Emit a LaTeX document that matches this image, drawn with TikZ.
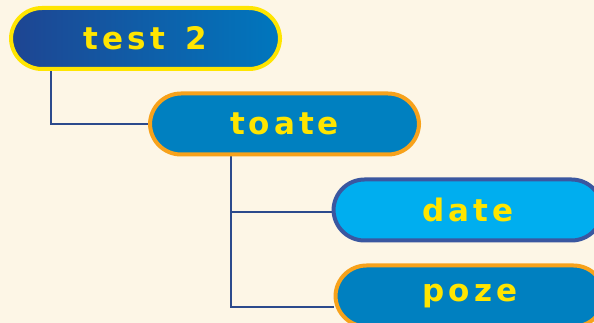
\documentclass[tikz,border=0pt]{standalone}
\usepackage{fontspec}
\newfontfamily\boxfont[LetterSpace=13]{DejaVu Sans Bold}
\usetikzlibrary{backgrounds}
\definecolor{bg}{HTML}{FDF6E6}
\definecolor{ylw}{HTML}{FFE500}
\definecolor{org}{HTML}{F7A21B}
\definecolor{midblue}{HTML}{0080C0}
\definecolor{lightblue}{HTML}{00AEEF}
\definecolor{darkblue}{HTML}{1E4592}
\definecolor{gradright}{HTML}{0077BE}
\definecolor{edgeblue}{HTML}{3A57A0}
\definecolor{linkblue}{HTML}{2C4A8C}
\begin{document}
\begin{tikzpicture}[x=1pt,y=1pt,
  pill/.style={rounded corners=31pt, minimum width=269pt, minimum height=61pt,
    line width=4pt, text=ylw, font=\boxfont\fontsize{31}{36}\selectfont, inner sep=0pt},
  link/.style={draw=linkblue, line width=2pt}]
\useasboundingbox (0,0) rectangle (594,323);
\node[pill, draw=ylw, left color=darkblue, right color=gradright] (t2) at (145.5,284.5) {test\hspace{6pt} 2};
\node[pill, draw=org, fill=midblue] (toate) at (284.5,199) {toate};
\node[pill, draw=edgeblue, fill=lightblue] (date) at (468,113) {date};
\node[pill, draw=org, fill=midblue] (poze) at (470,27) {poze};
\coordinate (c1) at (51,262);
\coordinate (c2) at (231,172);
\begin{scope}[on background layer]
\fill[bg] (0,0) rectangle (594,323);
\draw[link] (c1) |- (toate.west);
\draw[link] (c2) |- ([yshift=-2pt]date.west);
\draw[link] (c2) |- ([yshift=-11pt]poze.west);
\end{scope}
\end{tikzpicture}
\end{document}
